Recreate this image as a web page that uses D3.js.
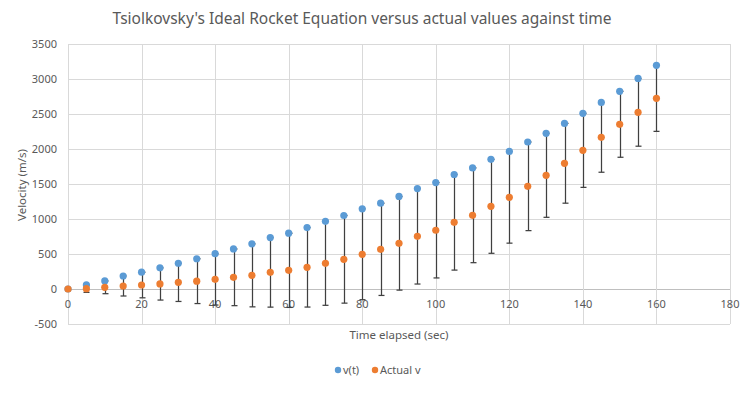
<!DOCTYPE html>
<html>
<head>
<meta charset="utf-8">
<script src="https://cdn.jsdelivr.net/npm/d3@7"></script>
<style>
  body { margin: 0; background: #fff; }
  text { font-family: "Noto Sans", "Open Sans", sans-serif; fill: #595959; }
</style>
</head>
<body>
<svg width="748" height="396"></svg>
<script>
// time elapsed (sec)
var times = [0, 5, 10, 15, 20, 25, 30, 35, 40, 45, 50, 55, 60, 65, 70, 75, 80,
             85, 90, 95, 100, 105, 110, 115, 120, 125, 130, 135, 140, 145, 150, 155, 160];
// ideal rocket equation v(t)
var idealV = [0, 58, 115, 186, 240, 302, 368, 432, 505, 572, 645, 735, 797, 878, 967, 1050, 1145,
              1226, 1322, 1435, 1520, 1636, 1730, 1852, 1965, 2100, 2224, 2366, 2510, 2666, 2824, 3008, 3196];
// measured values
var actualV = [0, 5, 24, 43, 57, 72, 95, 112, 138, 167, 195, 238, 267, 310, 367, 424, 496,
               567, 653, 753, 839, 953, 1053, 1181, 1310, 1467, 1624, 1796, 1981, 2167, 2353, 2524, 2724];
var xTicks = [0, 20, 40, 60, 80, 100, 120, 140, 160, 180];
var yTicks = [-500, 0, 500, 1000, 1500, 2000, 2500, 3000, 3500];

var svg = d3.select("svg");
var plot = { left: 68, right: 730, top: 44, bottom: 324 };

var x = d3.scaleLinear().domain([0, 180]).range([plot.left, plot.right]);
var y = d3.scaleLinear().domain([-500, 3500]).range([plot.bottom, plot.top]);

var data = times.map(function(t, i) {
  return { t: t, v: idealV[i], a: actualV[i], err: idealV[i] - actualV[i] };
});

// grid
svg.append("g").selectAll("line").data(yTicks).enter().append("line")
  .attr("x1", plot.left).attr("x2", plot.right)
  .attr("y1", function(d) { return Math.round(y(d)) + 0.5; }).attr("y2", function(d) { return Math.round(y(d)) + 0.5; })
  .attr("stroke", function(d) { return d === 0 ? "#bfbfbf" : "#d9d9d9"; });
svg.append("g").selectAll("line").data(xTicks).enter().append("line")
  .attr("y1", plot.top).attr("y2", plot.bottom)
  .attr("x1", function(d) { return Math.round(x(d)) + 0.5; }).attr("x2", function(d) { return Math.round(x(d)) + 0.5; })
  .attr("stroke", "#d9d9d9");

// tick labels
svg.append("g").selectAll("text").data(yTicks).enter().append("text")
  .attr("x", 57).attr("y", function(d) { return y(d); })
  .attr("dy", "0.35em").attr("text-anchor", "end")
  .style("font-size", "11px")
  .text(function(d) { return d; });
svg.append("g").selectAll("text").data(xTicks).enter().append("text")
  .attr("x", function(d) { return x(d); }).attr("y", y(0) + 15)
  .attr("dy", "0.35em").attr("text-anchor", "middle")
  .style("font-size", "11px")
  .text(function(d) { return d; });

// error bars on actual series
var eb = svg.append("g").attr("stroke", "#404040").attr("stroke-width", 1.25);
data.forEach(function(d) {
  if (d.err <= 0) return;
  var cx = Math.round(x(d.t)) + 0.5;
  var y1 = y(d.a + d.err), y2 = y(d.a - d.err);
  eb.append("line").attr("x1", cx).attr("x2", cx).attr("y1", y1).attr("y2", y2);
  eb.append("line").attr("x1", cx - 3).attr("x2", cx + 3).attr("y1", y1).attr("y2", y1);
  eb.append("line").attr("x1", cx - 3).attr("x2", cx + 3).attr("y1", y2).attr("y2", y2);
});

// markers
svg.append("g").selectAll("circle").data(data).enter().append("circle")
  .attr("cx", function(d) { return x(d.t); }).attr("cy", function(d) { return y(d.v); })
  .attr("r", 3.6).attr("fill", "#5b9bd5");
svg.append("g").selectAll("circle").data(data).enter().append("circle")
  .attr("cx", function(d) { return x(d.t); }).attr("cy", function(d) { return y(d.a); })
  .attr("r", 3.6).attr("fill", "#ed7d31");

// titles
svg.append("text").attr("x", 362).attr("y", 24).attr("text-anchor", "middle")
  .style("font-size", "15.5px").text("Tsiolkovsky's Ideal Rocket Equation versus actual values against time");
svg.append("text").attr("x", 399).attr("y", 339).attr("text-anchor", "middle")
  .style("font-size", "11.5px").text("Time elapsed (sec)");
svg.append("text").attr("transform", "translate(26,185) rotate(-90)").attr("text-anchor", "middle")
  .style("font-size", "11.5px").text("Velocity (m/s)");

// legend
var legend = [{ name: "v(t)", color: "#5b9bd5", x: 338 }, { name: "Actual v", color: "#ed7d31", x: 375 }];
var lg = svg.append("g").selectAll("g").data(legend).enter().append("g");
lg.append("circle").attr("cx", function(d) { return d.x; }).attr("cy", 370).attr("r", 3.2)
  .attr("fill", function(d) { return d.color; });
lg.append("text").attr("x", function(d) { return d.x + 5; }).attr("y", 370).attr("dy", "0.35em")
  .style("font-size", "11px").text(function(d) { return d.name; });
</script>
</body>
</html>
